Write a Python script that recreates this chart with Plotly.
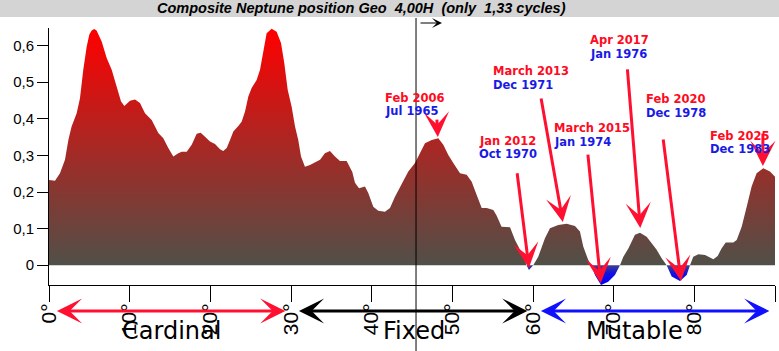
import plotly.graph_objects as go

# ---------------- data ----------------
degrees = [0.0, 0.74, 1.36, 1.98, 2.4, 2.8, 3.43, 3.84, 4.25, 4.67, 5.0, 5.29, 5.6, 5.9, 6.53, 7.15,
           7.77, 8.39, 8.93, 9.34, 10.04, 10.66, 11.28, 11.9, 12.73, 13.55, 14.17, 14.79, 15.41,
           16.03, 16.45, 17.07, 17.69, 18.31, 18.8, 19.34, 19.96, 20.58, 21.2, 21.6, 22.03, 22.44,
           22.85, 23.47, 23.88, 24.3, 24.71, 25.12, 25.74, 26.16, 26.57, 26.98, 27.6, 28.22, 28.76,
           29.17, 29.59, 30.08, 30.5, 30.9, 31.24, 31.73, 32.35, 32.97, 33.6, 34.2, 34.83, 35.45,
           36.07, 36.9, 37.3, 37.6, 37.93, 38.43, 39.17, 39.58, 40.2, 40.82, 41.65, 42.27, 42.89,
           43.72, 44.54, 45.37, 45.99, 46.61, 47.44, 48.26, 48.88, 49.5, 50.12, 50.95, 51.78, 52.4,
           53.02, 53.64, 54.26, 55.08, 55.5, 56.1, 57.15, 57.77, 58.39, 59.0, 59.2, 59.5, 59.8,
           60.03, 60.65, 61.48, 62.1, 63.13, 64.17, 65.2, 65.82, 66.23, 66.85, 67.27, 67.68, 68.43,
           69.33, 70.16, 70.78, 71.2, 71.82, 72.64, 73.26, 74.09, 74.71, 75.33, 75.95, 76.57, 77.19,
           78.22, 79.05, 79.46, 79.87, 80.5, 81.33, 81.95, 82.36, 82.89, 83.37, 83.89, 84.83, 85.25,
           85.87, 86.49, 87.1, 87.72, 88.55, 89.38, 90.0]
values = [0.233, 0.231, 0.251, 0.288, 0.342, 0.379, 0.415, 0.456, 0.534, 0.597, 0.630, 0.641, 0.645,
          0.641, 0.611, 0.566, 0.534, 0.488, 0.447, 0.435, 0.449, 0.453, 0.443, 0.415, 0.397, 0.361,
          0.347, 0.320, 0.297, 0.306, 0.310, 0.310, 0.329, 0.359, 0.362, 0.351, 0.338, 0.331, 0.317,
          0.312, 0.320, 0.342, 0.365, 0.380, 0.392, 0.420, 0.461, 0.484, 0.506, 0.534, 0.588, 0.634,
          0.646, 0.638, 0.607, 0.552, 0.479, 0.433, 0.379, 0.342, 0.297, 0.269, 0.274, 0.280, 0.288,
          0.306, 0.312, 0.297, 0.285, 0.285, 0.269, 0.255, 0.225, 0.210, 0.215, 0.197, 0.160, 0.149,
          0.146, 0.156, 0.187, 0.224, 0.256, 0.279, 0.306, 0.333, 0.342, 0.347, 0.329, 0.301, 0.279,
          0.251, 0.247, 0.228, 0.192, 0.156, 0.156, 0.151, 0.135, 0.105, 0.104, 0.069, 0.042, 0.014,
          0.0, -0.013, -0.006, 0.0, 0.023, 0.074, 0.101, 0.110, 0.113, 0.107, 0.092, 0.051, 0.014,
          0.0, -0.027, -0.054, -0.045, -0.027, 0.0, 0.023, 0.046, 0.083, 0.089, 0.078, 0.060, 0.042,
          0.019, 0.0, -0.031, -0.043, -0.027, 0.0, 0.023, 0.030, 0.028, 0.022, 0.016, 0.025, 0.046,
          0.062, 0.062, 0.069, 0.105, 0.160, 0.215, 0.251, 0.265, 0.256, 0.242]

x_ticks = [0, 10, 20, 30, 40, 50, 60, 70, 80, 90]
x_tick_labels = ["0°", "10°", "20°", "30°", "40°", "50°", "60°", "70°", "80°", "90°"]
y_ticks = [0, 0.1, 0.2, 0.3, 0.4, 0.5, 0.6]
y_tick_labels = ["0", "0,1", "0,2", "0,3", "0,4", "0,5", "0,6"]

event_deg = [48.2, 59.5, 63.7, 68.4, 73.3, 78.35, 88.5]
event_val = [0.35, -0.007, 0.118, -0.049, 0.102, -0.043, 0.271]
event_date_new = ["Feb 2006", "Jan 2012", "March 2013", "March 2015", "Apr 2017", "Feb 2020", "Feb 2025"]
event_date_old = ["Jul 1965", "Oct 1970", "Dec 1971", "Jan 1974", "Jan 1976", "Dec 1978", "Dec 1983"]

current_position = 45.5
zones = ["Cardinal", "Fixed", "Mutable"]
zone_start = [0, 30, 60]
zone_end = [30, 60, 90]

title_text = "Composite Neptune position Geo  4,00H  (only  1,33 cycles)"

# ---------------- layout geometry (pixels) ----------------
W, H = 779, 351
ML, MR, MT, MB = 49, 4, 28, 66
PW, PH = W - ML - MR, H - MT - MB
Y_RANGE = [-0.054, 0.648]


def px(X):
    return (X - ML) / PW


def py(Y):
    return (H - MB - Y) / PH


# label positions: left pixel x, red-line centre y, blue-line centre y
label_pos = [(383, 98, 111), (477, 141, 154), (491, 71, 85), (552, 128, 142),
             (588, 40, 54), (644, 99, 113), (708, 136, 149)]
# arrow tail offsets (pixels) from tip
arrow_off = [(-1, -19), (-12, -96), (-22, -125), (-13, -130), (-13, -160), (-18, -143), (0, -34)]
zone_colors = ["#ff1030", "#000000", "#1010ff"]
zone_label_x = [15.2, 45.2, 72.6]

pos_vals = [max(v, 0) for v in values]
neg_vals = [min(v, 0) for v in values]

fig = go.Figure()
fig.add_trace(go.Scatter(
    x=degrees, y=pos_vals, mode="lines", line=dict(width=0), fill="tozeroy",
    fillgradient=dict(type="vertical", colorscale=[[0, "#505048"], [1, "#ff0000"]],
                      start=0, stop=0.645),
    hoverinfo="skip", showlegend=False))
fig.add_trace(go.Scatter(
    x=degrees, y=neg_vals, mode="lines", line=dict(width=0), fill="tozeroy",
    fillgradient=dict(type="vertical", colorscale=[[0, "#0000ff"], [0.6, "#1212e0"], [1, "#404088"]],
                      start=-0.054, stop=0),
    hoverinfo="skip", showlegend=False))

annotations = []
shapes = []

# title bar
shapes.append(dict(type="rect", xref="paper", yref="paper", x0=px(0), x1=px(W), y0=py(17), y1=py(0),
                   fillcolor="#d4d4d4", line=dict(width=0), layer="below"))
annotations.append(dict(text=title_text, xref="paper", yref="paper", x=px(361), y=py(8),
                        showarrow=False, xanchor="center", yanchor="middle",
                        font=dict(family="Liberation Sans", size=14.5, color="black", weight="bold",
                                  style="italic")))

# current position line
shapes.append(dict(type="line", xref="x", yref="paper", x0=current_position, x1=current_position,
                   y0=py(H), y1=py(18), line=dict(color="black", width=1)))
annotations.append(dict(text="", xref="paper", yref="paper", x=px(442), y=py(23),
                        ax=-23, ay=0, showarrow=True, arrowhead=3, arrowsize=1.4,
                        arrowwidth=1.2, arrowcolor="black", standoff=0))

# event arrows and labels
for i in range(len(event_deg)):
    annotations.append(dict(text="", xref="x", yref="y", x=event_deg[i], y=event_val[i],
                            ax=arrow_off[i][0], ay=arrow_off[i][1], showarrow=True,
                            arrowhead=3, arrowsize=1.4, arrowwidth=3, arrowcolor="#ff1030",
                            standoff=0))
    lx, ry, by = label_pos[i]
    annotations.append(dict(text=event_date_new[i], xref="paper", yref="paper", x=px(lx), y=py(ry),
                            showarrow=False, xanchor="left", yanchor="middle",
                            font=dict(family="DejaVu Sans", size=11.5, color="#ff0a1e",
                                      weight="bold")))
    annotations.append(dict(text=event_date_old[i], xref="paper", yref="paper", x=px(lx), y=py(by),
                            showarrow=False, xanchor="left", yanchor="middle",
                            font=dict(family="DejaVu Sans", size=11.5, color="#1a1ae6",
                                      weight="bold")))

# zone arrows and labels
for i in range(len(zones)):
    annotations.append(dict(text="", xref="x", yref="paper", x=zone_end[i] - 0.7, y=py(311),
                            axref="x", ax=zone_start[i] + 0.8, ayref="pixel", ay=0,
                            showarrow=True, arrowhead=3, startarrowhead=3, arrowside="end+start",
                            arrowsize=1.4, startarrowsize=1.4,
                            arrowwidth=3, arrowcolor=zone_colors[i], standoff=0, startstandoff=0))
    annotations.append(dict(text=zones[i], xref="x", yref="paper", x=zone_label_x[i], y=py(331),
                            showarrow=False, xanchor="center", yanchor="middle",
                            font=dict(family="DejaVu Sans", size=24, color="black")))

fig.update_layout(
    width=W, height=H,
    margin=dict(l=ML, r=MR, t=MT, b=MB, pad=0),
    paper_bgcolor="white", plot_bgcolor="white",
    showlegend=False,
    shapes=shapes, annotations=annotations,
    xaxis=dict(range=[0, 90], tickvals=x_ticks, ticktext=x_tick_labels, tickangle=-90,
               ticks="outside", ticklen=16, tickcolor="black", showgrid=False, zeroline=False,
               showline=True, linecolor="black", linewidth=1, ticklabelstandoff=-7,
               tickfont=dict(family="Liberation Sans", size=21, color="black")),
    yaxis=dict(range=Y_RANGE, tickvals=y_ticks, ticktext=y_tick_labels,
               ticks="outside", ticklen=11, tickcolor="black", showgrid=False, zeroline=False,
               showline=True, linecolor="black", linewidth=1,
               tickfont=dict(family="Liberation Sans", size=15, color="black")),
)

fig.write_html("out.html")
